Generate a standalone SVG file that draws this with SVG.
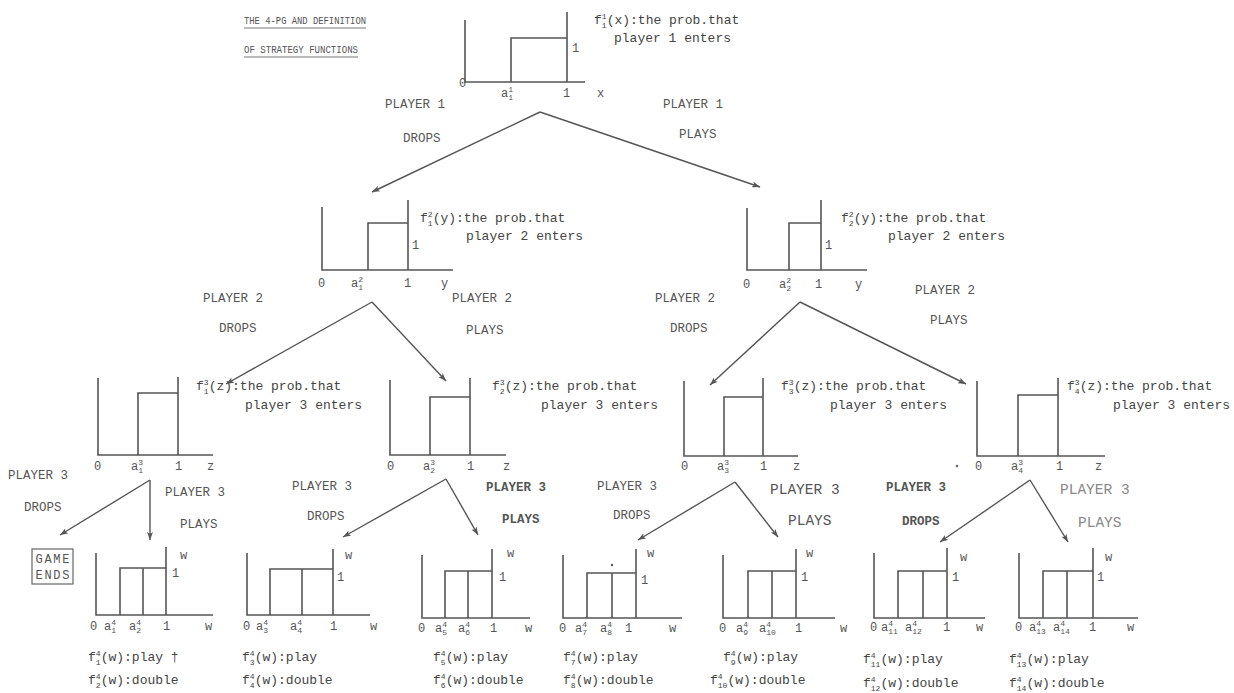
<svg xmlns="http://www.w3.org/2000/svg" width="1234" height="693" viewBox="0 0 1234 693">
<defs>
<style>
.ax{stroke:#555;stroke-width:1.6;fill:none}
.cn{stroke:#555;stroke-width:1.4;fill:none;marker-end:url(#ah)}
.t{font-family:"Liberation Mono",monospace;font-size:13px;fill:#444}
.l{font-family:"Liberation Mono",monospace;font-size:12.5px;fill:#555}
.b{font-weight:bold}
.big{font-size:14.5px}
.gr{fill:#888}
.a{font-family:"Liberation Mono",monospace;font-size:12px;fill:#555}
.s{font-size:8px}
.ti{font-family:"Liberation Mono",monospace;font-size:10.5px;fill:#555}
</style>
<marker id="ah" markerWidth="9" markerHeight="6" refX="8" refY="3" orient="auto" markerUnits="userSpaceOnUse">
<path d="M0,0 L8,3 L0,6 L2,3 z" fill="#555"/>
</marker>
</defs>
<rect width="1234" height="693" fill="#fff"/>

<g id="title">
<text class="ti" x="244" y="24" textLength="122" lengthAdjust="spacingAndGlyphs">THE 4-PG AND DEFINITION</text>
<line x1="244" y1="28" x2="366" y2="28" stroke="#777" stroke-width="1"/>
<text class="ti" x="244" y="53" textLength="114" lengthAdjust="spacingAndGlyphs">OF STRATEGY FUNCTIONS</text>
<line x1="244" y1="57" x2="358" y2="57" stroke="#777" stroke-width="1"/>
</g>

<g id="g1">
<path class="ax" d="M465 20 V82 H585"/>
<path class="ax" d="M511 82 V38 H567"/>
<path class="ax" d="M567 12 V82"/>
<text class="a" x="572" y="52">1</text>
<text class="a" x="459" y="87">0</text>
<text class="a" x="501" y="97">a<tspan class="s" dy="-5">1</tspan><tspan class="s" dx="-4.8" dy="8">1</tspan></text>
<text class="a" x="563" y="97">1</text>
<text class="a" x="597" y="97">x</text>
<text class="t" x="594" y="24">f<tspan class="s" dy="-5">1</tspan><tspan class="s" dx="-4.8" dy="9">1</tspan><tspan dy="-4">(x):the prob.that</tspan></text>
<text class="t" x="614" y="42">player 1 enters</text>
</g>

<g id="lab1">
<text class="l" x="385" y="108">PLAYER 1</text>
<text class="l" x="403" y="142">DROPS</text>
<text class="l" x="663" y="108">PLAYER 1</text>
<text class="l" x="679" y="138">PLAYS</text>
</g>

<g id="g2a">
<path class="ax" d="M322 207 V270 H453"/>
<path class="ax" d="M368 270 V223 H408"/>
<path class="ax" d="M408 200 V270"/>
<text class="a" x="412" y="249">1</text>
<text class="a" x="318" y="287">0</text>
<text class="a" x="351" y="287">a<tspan class="s" dy="-5">2</tspan><tspan class="s" dx="-4.8" dy="8">1</tspan></text>
<text class="a" x="404" y="287">1</text>
<text class="a" x="441" y="287">y</text>
<text class="t" x="420" y="222">f<tspan class="s" dy="-5">2</tspan><tspan class="s" dx="-4.8" dy="9">1</tspan><tspan dy="-4">(y):the prob.that</tspan></text>
<text class="t" x="466" y="240">player 2 enters</text>
</g>

<g id="g2b">
<path class="ax" d="M747 208 V270 H867"/>
<path class="ax" d="M789 270 V223 H821"/>
<path class="ax" d="M821 200 V270"/>
<text class="a" x="825" y="249">1</text>
<text class="a" x="743" y="288">0</text>
<text class="a" x="779" y="288">a<tspan class="s" dy="-5">2</tspan><tspan class="s" dx="-4.8" dy="8">2</tspan></text>
<text class="a" x="815" y="288">1</text>
<text class="a" x="855" y="288">y</text>
<text class="t" x="841" y="222">f<tspan class="s" dy="-5">2</tspan><tspan class="s" dx="-4.8" dy="9">2</tspan><tspan dy="-4">(y):the prob.that</tspan></text>
<text class="t" x="888" y="240">player 2 enters</text>
</g>

<g id="lab2">
<text class="l" x="203" y="302">PLAYER 2</text>
<text class="l" x="219" y="332">DROPS</text>
<text class="l" x="452" y="302">PLAYER 2</text>
<text class="l" x="466" y="334">PLAYS</text>
<text class="l" x="655" y="302">PLAYER 2</text>
<text class="l" x="670" y="332">DROPS</text>
<text class="l" x="915" y="294">PLAYER 2</text>
<text class="l" x="930" y="324">PLAYS</text>
</g>

<g id="g3a">
<path class="ax" d="M98 378 V455 H213"/>
<path class="ax" d="M138 455 V393 H178"/>
<path class="ax" d="M178 377 V455"/>
<text class="a" x="94" y="470">0</text>
<text class="a" x="131" y="470">a<tspan class="s" dy="-5">3</tspan><tspan class="s" dx="-4.8" dy="8">1</tspan></text>
<text class="a" x="175" y="470">1</text>
<text class="a" x="207" y="470">z</text>
<text class="t" x="196" y="390">f<tspan class="s" dy="-5">3</tspan><tspan class="s" dx="-4.8" dy="9">1</tspan><tspan dy="-4">(z):the prob.that</tspan></text>
<text class="t" x="245" y="409">player 3 enters</text>
</g>

<g id="g3b">
<path class="ax" d="M390 380 V455 H506"/>
<path class="ax" d="M430 455 V397 H470"/>
<path class="ax" d="M470 378 V455"/>
<text class="a" x="387" y="470">0</text>
<text class="a" x="423" y="470">a<tspan class="s" dy="-5">3</tspan><tspan class="s" dx="-4.8" dy="8">2</tspan></text>
<text class="a" x="467" y="470">1</text>
<text class="a" x="503" y="470">z</text>
<text class="t" x="492" y="390">f<tspan class="s" dy="-5">3</tspan><tspan class="s" dx="-4.8" dy="9">2</tspan><tspan dy="-4">(z):the prob.that</tspan></text>
<text class="t" x="541" y="409">player 3 enters</text>
</g>

<g id="g3c">
<path class="ax" d="M684 381 V456 H798"/>
<path class="ax" d="M724 456 V397 H763"/>
<path class="ax" d="M763 378 V456"/>
<text class="a" x="681" y="470">0</text>
<text class="a" x="717" y="470">a<tspan class="s" dy="-5">3</tspan><tspan class="s" dx="-4.8" dy="8">3</tspan></text>
<text class="a" x="760" y="470">1</text>
<text class="a" x="793" y="470">z</text>
<text class="t" x="781" y="390">f<tspan class="s" dy="-5">3</tspan><tspan class="s" dx="-4.8" dy="9">3</tspan><tspan dy="-4">(z):the prob.that</tspan></text>
<text class="t" x="830" y="409">player 3 enters</text>
</g>

<g id="g3d">
<path class="ax" d="M977 381 V456 H1105"/>
<path class="ax" d="M1018 456 V395 H1058"/>
<path class="ax" d="M1058 378 V456"/>
<text class="a" x="975" y="470">0</text>
<text class="a" x="1011" y="470">a<tspan class="s" dy="-5">3</tspan><tspan class="s" dx="-4.8" dy="8">4</tspan></text>
<text class="a" x="1056" y="470">1</text>
<text class="a" x="1095" y="470">z</text>
<text class="t" x="1067" y="390">f<tspan class="s" dy="-5">3</tspan><tspan class="s" dx="-4.8" dy="9">4</tspan><tspan dy="-4">(z):the prob.that</tspan></text>
<text class="t" x="1113" y="409">player 3 enters</text>
<circle cx="957" cy="466" r="1.3" fill="#666"/>
</g>

<g id="lab3">
<text class="l" x="8" y="479">PLAYER 3</text>
<text class="l" x="24" y="511">DROPS</text>
<text class="l" x="165" y="496">PLAYER 3</text>
<text class="l" x="180" y="528">PLAYS</text>
<text class="l" x="292" y="490">PLAYER 3</text>
<text class="l" x="307" y="520">DROPS</text>
<text class="l b" x="486" y="491">PLAYER 3</text>
<text class="l b" x="502" y="523">PLAYS</text>
<text class="l" x="597" y="490">PLAYER 3</text>
<text class="l" x="613" y="519">DROPS</text>
<text class="l big" x="770" y="494">PLAYER 3</text>
<text class="l big" x="788" y="525">PLAYS</text>
<text class="l b" x="886" y="491">PLAYER 3</text>
<text class="l b" x="902" y="525">DROPS</text>
<text class="l big gr" x="1060" y="494">PLAYER 3</text>
<text class="l big gr" x="1078" y="527">PLAYS</text>
</g>

<g id="gameends">
<rect x="32" y="549" width="41" height="35" fill="none" stroke="#666" stroke-width="1.2"/>
<text class="a" x="52.5" y="563" text-anchor="middle" textLength="34">GAME</text>
<text class="a" x="52.5" y="579" text-anchor="middle" textLength="34">ENDS</text>
</g>

<g id="b1">
<path class="ax" d="M96 553 V615 H213"/>
<path class="ax" d="M120 615 V568 H166"/>
<path class="ax" d="M143 568 V615"/>
<path class="ax" d="M166 547 V615"/>
<text class="a" x="180" y="559">w</text>
<text class="a" x="172" y="577">1</text>
<text class="a" x="90" y="630">0</text>
<text class="a" x="104" y="630">a<tspan class="s" dy="-5">4</tspan><tspan class="s" dx="-4.8" dy="8">1</tspan></text>
<text class="a" x="129" y="630">a<tspan class="s" dy="-5">4</tspan><tspan class="s" dx="-4.8" dy="8">2</tspan></text>
<text class="a" x="163" y="630">1</text>
<text class="a" x="205" y="630">w</text>
<text class="t" x="88" y="661">f<tspan class="s" dy="-5">4</tspan><tspan class="s" dx="-4.8" dy="9">1</tspan><tspan dy="-4">(w):play †</tspan></text>
<text class="t" x="88" y="684">f<tspan class="s" dy="-5">4</tspan><tspan class="s" dx="-4.8" dy="9">2</tspan><tspan dy="-4">(w):double</tspan></text>
</g>

<g id="b2">
<path class="ax" d="M247 553 V615 H370"/>
<path class="ax" d="M270 615 V569 H333"/>
<path class="ax" d="M302 569 V615"/>
<path class="ax" d="M333 549 V615"/>
<text class="a" x="345" y="559">w</text>
<text class="a" x="337" y="581">1</text>
<text class="a" x="243" y="630">0</text>
<text class="a" x="256" y="630">a<tspan class="s" dy="-5">4</tspan><tspan class="s" dx="-4.8" dy="8">3</tspan></text>
<text class="a" x="290" y="630">a<tspan class="s" dy="-5">4</tspan><tspan class="s" dx="-4.8" dy="8">4</tspan></text>
<text class="a" x="330" y="630">1</text>
<text class="a" x="370" y="630">w</text>
<text class="t" x="242" y="661">f<tspan class="s" dy="-5">4</tspan><tspan class="s" dx="-4.8" dy="9">3</tspan><tspan dy="-4">(w):play</tspan></text>
<text class="t" x="242" y="684">f<tspan class="s" dy="-5">4</tspan><tspan class="s" dx="-4.8" dy="9">4</tspan><tspan dy="-4">(w):double</tspan></text>
</g>

<g id="b3">
<path class="ax" d="M422 555 V618 H530"/>
<path class="ax" d="M445 618 V571 H492"/>
<path class="ax" d="M468 571 V618"/>
<path class="ax" d="M492 549 V618"/>
<text class="a" x="507" y="557">w</text>
<text class="a" x="499" y="581">1</text>
<text class="a" x="418" y="632">0</text>
<text class="a" x="435" y="632">a<tspan class="s" dy="-5">4</tspan><tspan class="s" dx="-4.8" dy="8">5</tspan></text>
<text class="a" x="458" y="632">a<tspan class="s" dy="-5">4</tspan><tspan class="s" dx="-4.8" dy="8">6</tspan></text>
<text class="a" x="490" y="632">1</text>
<text class="a" x="525" y="632">w</text>
<text class="t" x="433" y="661">f<tspan class="s" dy="-5">4</tspan><tspan class="s" dx="-4.8" dy="9">5</tspan><tspan dy="-4">(w):play</tspan></text>
<text class="t" x="433" y="684">f<tspan class="s" dy="-5">4</tspan><tspan class="s" dx="-4.8" dy="9">6</tspan><tspan dy="-4">(w):double</tspan></text>
</g>

<g id="b4">
<path class="ax" d="M563 555 V618 H682"/>
<path class="ax" d="M587 618 V573 H636"/>
<path class="ax" d="M612 573 V618"/>
<path class="ax" d="M636 549 V618"/>
<circle cx="612" cy="565" r="1.2" fill="#555"/>
<text class="a" x="647" y="557">w</text>
<text class="a" x="641" y="584">1</text>
<text class="a" x="559" y="632">0</text>
<text class="a" x="575" y="632">a<tspan class="s" dy="-5">4</tspan><tspan class="s" dx="-4.8" dy="8">7</tspan></text>
<text class="a" x="600" y="632">a<tspan class="s" dy="-5">4</tspan><tspan class="s" dx="-4.8" dy="8">8</tspan></text>
<text class="a" x="625" y="632">1</text>
<text class="a" x="669" y="632">w</text>
<text class="t" x="563" y="661">f<tspan class="s" dy="-5">4</tspan><tspan class="s" dx="-4.8" dy="9">7</tspan><tspan dy="-4">(w):play</tspan></text>
<text class="t" x="563" y="684">f<tspan class="s" dy="-5">4</tspan><tspan class="s" dx="-4.8" dy="9">8</tspan><tspan dy="-4">(w):double</tspan></text>
</g>

<g id="b5">
<path class="ax" d="M723 555 V618 H835"/>
<path class="ax" d="M748 618 V571 H796"/>
<path class="ax" d="M772 571 V618"/>
<path class="ax" d="M796 549 V618"/>
<text class="a" x="806" y="557">w</text>
<text class="a" x="801" y="581">1</text>
<text class="a" x="719" y="632">0</text>
<text class="a" x="736" y="632">a<tspan class="s" dy="-5">4</tspan><tspan class="s" dx="-4.8" dy="8">9</tspan></text>
<text class="a" x="759" y="632">a<tspan class="s" dy="-5">4</tspan><tspan class="s" dx="-4.8" dy="8">10</tspan></text>
<text class="a" x="795" y="632">1</text>
<text class="a" x="840" y="632">w</text>
<text class="t" x="723" y="661">f<tspan class="s" dy="-5">4</tspan><tspan class="s" dx="-4.8" dy="9">9</tspan><tspan dy="-4">(w):play</tspan></text>
<text class="t" x="710" y="684">f<tspan class="s" dy="-5">4</tspan><tspan class="s" dx="-4.8" dy="9">10</tspan><tspan dy="-4">(w):double</tspan></text>
</g>

<g id="b6">
<path class="ax" d="M874 553 V618 H985"/>
<path class="ax" d="M898 618 V571 H947"/>
<path class="ax" d="M923 571 V618"/>
<path class="ax" d="M947 548 V618"/>
<text class="a" x="960" y="561">w</text>
<text class="a" x="952" y="581">1</text>
<text class="a" x="870" y="631">0</text>
<text class="a" x="881" y="631">a<tspan class="s" dy="-5">4</tspan><tspan class="s" dx="-4.8" dy="8">11</tspan></text>
<text class="a" x="905" y="631">a<tspan class="s" dy="-5">4</tspan><tspan class="s" dx="-4.8" dy="8">12</tspan></text>
<text class="a" x="943" y="631">1</text>
<text class="a" x="976" y="631">w</text>
<text class="t" x="863" y="663">f<tspan class="s" dy="-5">4</tspan><tspan class="s" dx="-4.8" dy="9">11</tspan><tspan dy="-4">(w):play</tspan></text>
<text class="t" x="863" y="687">f<tspan class="s" dy="-5">4</tspan><tspan class="s" dx="-4.8" dy="9">12</tspan><tspan dy="-4">(w):double</tspan></text>
</g>

<g id="b7">
<path class="ax" d="M1019 553 V618 H1138"/>
<path class="ax" d="M1043 618 V571 H1093"/>
<path class="ax" d="M1067 571 V618"/>
<path class="ax" d="M1093 548 V618"/>
<text class="a" x="1105" y="561">w</text>
<text class="a" x="1097" y="581">1</text>
<text class="a" x="1015" y="631">0</text>
<text class="a" x="1029" y="631">a<tspan class="s" dy="-5">4</tspan><tspan class="s" dx="-4.8" dy="8">13</tspan></text>
<text class="a" x="1053" y="631">a<tspan class="s" dy="-5">4</tspan><tspan class="s" dx="-4.8" dy="8">14</tspan></text>
<text class="a" x="1089" y="631">1</text>
<text class="a" x="1127" y="631">w</text>
<text class="t" x="1009" y="663">f<tspan class="s" dy="-5">4</tspan><tspan class="s" dx="-4.8" dy="9">13</tspan><tspan dy="-4">(w):play</tspan></text>
<text class="t" x="1009" y="687">f<tspan class="s" dy="-5">4</tspan><tspan class="s" dx="-4.8" dy="9">14</tspan><tspan dy="-4">(w):double</tspan></text>
</g>

<g id="connectors">
<path class="cn" d="M540 112 L372 192"/>
<path class="cn" d="M540 112 L760 187"/>
<path class="cn" d="M372 302 L226 384"/>
<path class="cn" d="M372 302 L446 381"/>
<path class="cn" d="M800 302 L710 385"/>
<path class="cn" d="M800 302 L966 384"/>
<path class="cn" d="M150 480 L60 535"/>
<path class="cn" d="M150 480 L150 540"/>
<path class="cn" d="M446 479 L343 537"/>
<path class="cn" d="M446 479 L478 535"/>
<path class="cn" d="M735 482 L638 540"/>
<path class="cn" d="M735 482 L778 537"/>
<path class="cn" d="M1030 480 L940 542"/>
<path class="cn" d="M1030 480 L1068 542"/>
</g>
</svg>
